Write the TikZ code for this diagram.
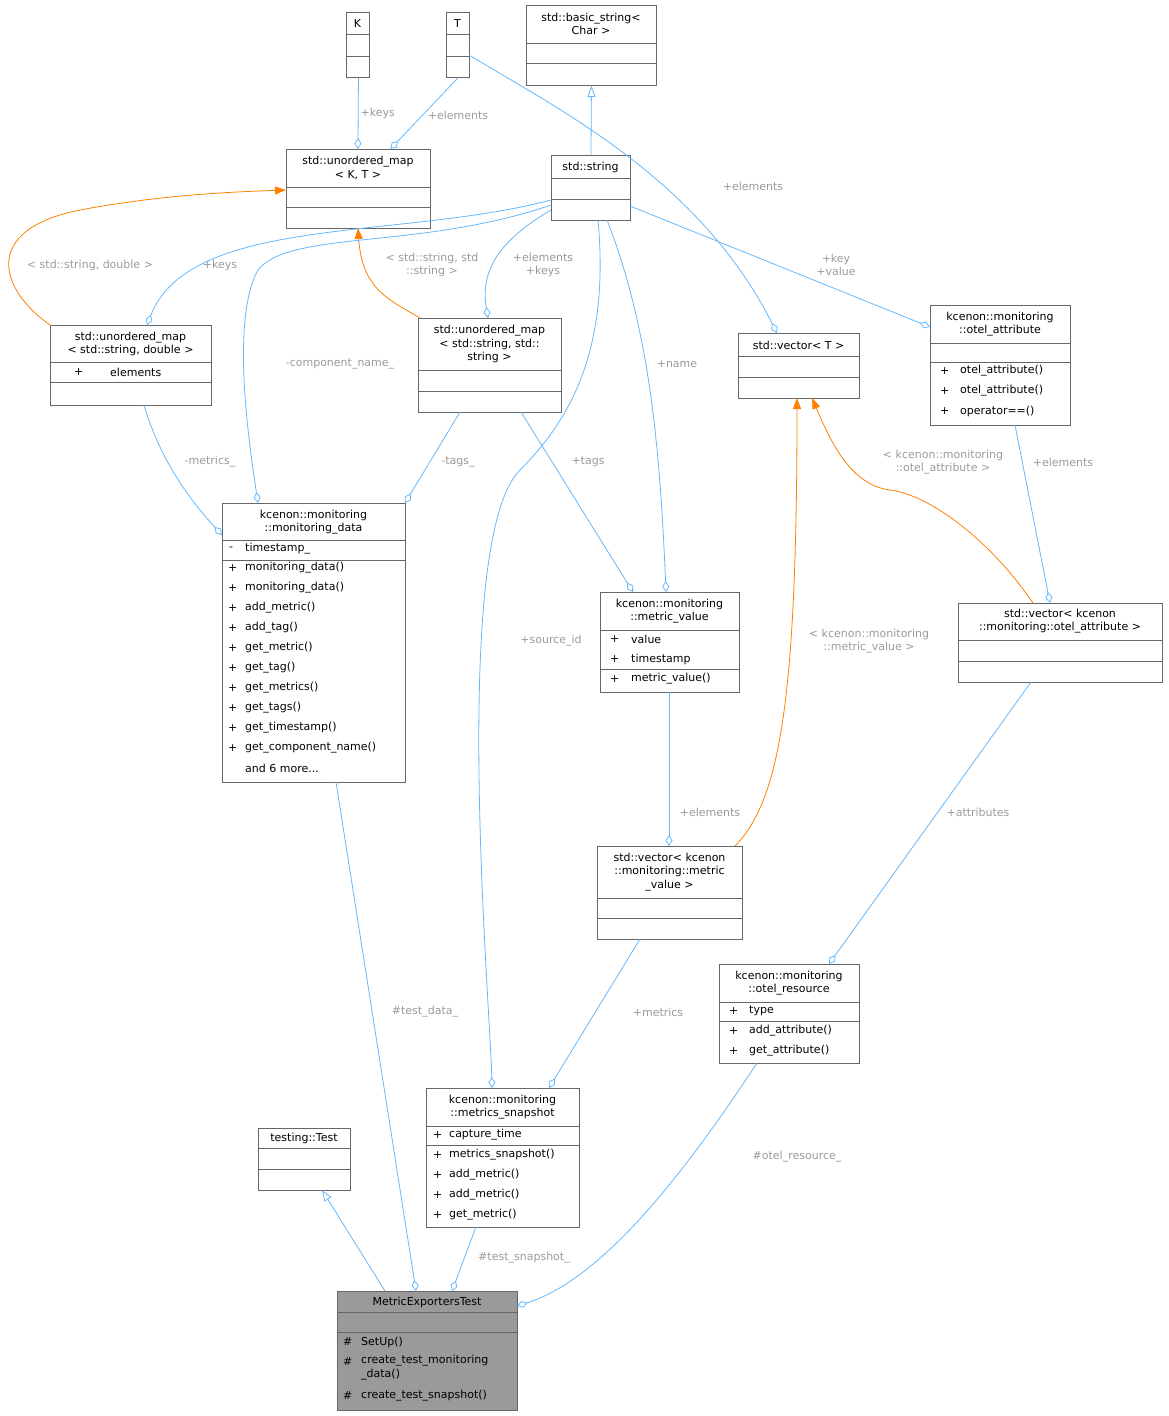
\documentclass[tikz,border=0pt]{standalone}
\usepackage{fontspec}
\setmainfont{DejaVu Sans}
\usetikzlibrary{arrows.meta}
\definecolor{eb}{HTML}{63B8FF}
\definecolor{lb}{HTML}{9A9A9A}
\definecolor{bd}{HTML}{666666}
\tikzset{
  fnt/.style={font=\fontsize{11}{13.5}\selectfont},
  box/.style={draw=bd,fill=white,inner sep=0pt,anchor=north west,line width=0.9pt},
  ttl/.style={fnt,align=center,inner sep=0pt},
  mem/.style={fnt,anchor=west,inner sep=0pt},
  lbl/.style={fnt,text=lb,align=center,inner sep=0pt},
  agg/.style={draw=eb,line width=0.8pt,-{Diamond[open,length=11pt,width=7pt,fill=white]}},
  inh/.style={draw=eb,line width=0.8pt,-{Triangle[open,length=11pt,width=8pt,fill=white]}},
  tmp/.style={draw=orange,line width=0.8pt,-{Triangle[length=11pt,width=8pt]}},
}
\newcommand{\cbox}[6][white]{% fill, name, x1,y1,x2,y2
  \node[box,fill=#1,minimum width={(#5-#3)*1pt},minimum height={(#6-#4)*1pt}] (#2) at (#3,#4) {};}
\newcommand{\hl}[3]{\draw[bd,line width=0.9pt] (#1,#3) -- (#2,#3);}
\begin{document}
\begin{tikzpicture}[x=1pt,y=-1pt]
\useasboundingbox (0,0) rectangle (1168,1416);
% K
\cbox{K}{346}{12}{369}{77}\hl{346}{369}{34}\hl{346}{369}{56}
\node[ttl] at (357.5,23) {K};
% T
\cbox{T}{446}{12}{469}{77}\hl{446}{469}{34}\hl{446}{469}{56}
\node[ttl] at (457.5,23) {T};
% basic_string
\cbox{bs}{526}{5}{656}{85}\hl{526}{656}{43}\hl{526}{656}{63}
\node[ttl] at (591,24) {std::basic\_string<\\Char >};
% umap K,T
\cbox{umkt}{286}{149}{430}{228}\hl{286}{430}{187}\hl{286}{430}{207}
\node[ttl] at (358,168) {std::unordered\_map\\< K, T >};
% std::string
\cbox{str}{551}{155}{630}{220}\hl{551}{630}{178}\hl{551}{630}{199}
\node[ttl] at (590.5,167) {std::string};
% umap string,double
\cbox{umsd}{50}{325}{211}{405}\hl{50}{211}{362}\hl{50}{211}{382}
\node[ttl] at (130.5,344) {std::unordered\_map\\< std::string, double >};
\node[mem] at (74,372) {+};\node[mem] at (110,372) {elements};
% umap string,string
\cbox{umss}{418}{318}{561}{412}\hl{418}{561}{370}\hl{418}{561}{391}
\node[ttl] at (489.5,344) {std::unordered\_map\\< std::string, std::\\string >};
% vector<T>
\cbox{vt}{738}{333}{859}{398}\hl{738}{859}{356}\hl{738}{859}{377}
\node[ttl] at (798.5,345) {std::vector< T >};
% otel_attribute
\cbox{oa}{930}{305}{1070}{425}\hl{930}{1070}{343}\hl{930}{1070}{362}
\node[ttl] at (1000,324) {kcenon::monitoring\\::otel\_attribute};
\node[mem] at (940,371) {+};\node[mem] at (960,371) {otel\_attribute()};
\node[mem] at (940,391) {+};\node[mem] at (960,391) {otel\_attribute()};
\node[mem] at (940,411) {+};\node[mem] at (960,411) {operator==()};
% monitoring_data
\cbox{md}{222}{503}{405}{782}\hl{222}{405}{540}\hl{222}{405}{560}
\node[ttl] at (313.5,522) {kcenon::monitoring\\::monitoring\_data};
\node[mem] at (229,549) {-};\node[mem] at (245,549) {timestamp\_};
\foreach \t [count=\i from 0] in {monitoring\_data(),monitoring\_data(),add\_metric(),add\_tag(),get\_metric(),get\_tag(),get\_metrics(),get\_tags(),get\_timestamp(),get\_component\_name()}{
  \node[mem] at (228,568+20*\i) {+};\node[mem] at (245,568+20*\i) {\t};}
\node[mem] at (245,768) {and 6 more...};
% metric_value
\cbox{mv}{600}{592}{739}{692}\hl{600}{739}{630}\hl{600}{739}{669}
\node[ttl] at (669.5,611) {kcenon::monitoring\\::metric\_value};
\node[mem] at (610,639) {+};\node[mem] at (631,639) {value};
\node[mem] at (610,659) {+};\node[mem] at (631,659) {timestamp};
\node[mem] at (610,679) {+};\node[mem] at (631,679) {metric\_value()};
% vector<otel_attribute>
\cbox{voa}{958}{603}{1162}{682}\hl{958}{1162}{640}\hl{958}{1162}{661}
\node[ttl] at (1060,621) {std::vector< kcenon\\::monitoring::otel\_attribute >};
% vector<metric_value>
\cbox{vmv}{597}{846}{742}{939}\hl{597}{742}{898}\hl{597}{742}{918}
\node[ttl] at (669.5,872) {std::vector< kcenon\\::monitoring::metric\\\_value >};
% otel_resource
\cbox{ores}{719}{964}{859}{1063}\hl{719}{859}{1002}\hl{719}{859}{1021}
\node[ttl] at (789,983) {kcenon::monitoring\\::otel\_resource};
\node[mem] at (729,1011) {+};\node[mem] at (749,1011) {type};
\node[mem] at (729,1031) {+};\node[mem] at (749,1031) {add\_attribute()};
\node[mem] at (729,1051) {+};\node[mem] at (749,1051) {get\_attribute()};
% metrics_snapshot
\cbox{ms}{426}{1088}{579}{1227}\hl{426}{579}{1126}\hl{426}{579}{1145}
\node[ttl] at (502.5,1107) {kcenon::monitoring\\::metrics\_snapshot};
\node[mem] at (433,1135) {+};\node[mem] at (449,1135) {capture\_time};
\foreach \t [count=\i from 0] in {metrics\_snapshot(),add\_metric(),add\_metric(),get\_metric()}{
  \node[mem] at (433,1155+20*\i) {+};\node[mem] at (449,1155+20*\i) {\t};}
% testing::Test
\cbox{tt}{258}{1128}{350}{1190}\hl{258}{350}{1148}\hl{258}{350}{1169}
\node[ttl] at (304,1138) {testing::Test};
% MetricExportersTest
\cbox[lb]{met}{337}{1291}{517}{1410}\hl{337}{517}{1312}\hl{337}{517}{1332}
\node[ttl] at (427,1302) {MetricExportersTest};
\node[mem] at (343,1342) {\#};\node[mem] at (361,1342) {SetUp()};
\node[mem] at (343,1362) {\#};\node[mem,align=left,anchor=north west] at (361,1355) {create\_test\_monitoring\\\_data()};
\node[mem] at (343,1396) {\#};\node[mem] at (361,1396) {create\_test\_snapshot()};
% ---- edges
\draw[agg] ([xshift=0.5pt]K.south) -- ([xshift=-0.5pt]umkt.north) node[lbl,pos=0.5,right=2pt] {+keys};
\draw[agg] ([xshift=0pt]T.south) -- ([xshift=32pt]umkt.north);
\node[lbl] at (458,115) {+elements};
\draw[inh] ([xshift=0pt]str.north) -- ([xshift=0pt]bs.south);
\draw[agg] (469,55) .. controls (560,110) and (700,180) .. ([xshift=-22pt]vt.north);
\node[lbl] at (753,186) {+elements};
\draw[tmp] (50,325) .. controls (0,290) and (-20,230) .. (80,210) .. controls (160,195) and (230,192) .. (286,190);
\node[lbl] at (90,265) {< std::string, double >};
\draw[tmp] (420,318) .. controls (390,300) and (362,290) .. (358,228);
\node[lbl] at (432,265) {< std::string, std\\::string >};
\draw[agg] (551,200) .. controls (400,240) and (190,215) .. (147,325);
\node[lbl] at (220,265) {+keys};
\draw[agg] (551,205) .. controls (420,250) and (290,230) .. (258,270) .. controls (230,320) and (250,450) .. (258,503);
\node[lbl] at (340,364) {-component\_name\_};
\draw[agg] (551,210) .. controls (500,240) and (480,270) .. (488,318);
\node[lbl] at (543,265) {+elements\\+keys};
\draw[agg] (598,220) .. controls (610,350) and (570,420) .. (520,470) .. controls (450,540) and (490,1000) .. (492,1088);
\node[lbl] at (551,641) {+source\_id};
\draw[agg] (607,220) .. controls (650,330) and (660,450) .. (666,592);
\node[lbl] at (677,364) {+name};
\draw[agg] (630,206) -- (930,327);
\node[lbl] at (836,265) {+key\\+value};
\draw[agg] (144,405) .. controls (160,460) and (190,500) .. (222,535);
\node[lbl] at (210,462) {-metrics\_};
\draw[agg] (460,412) -- (405,503);
\node[lbl] at (458,462) {-tags\_};
\draw[agg] (521,412) -- (633,592);
\node[lbl] at (588,462) {+tags};
\draw[tmp] (735,846) .. controls (780,800) and (797,700) .. (797,398);
\node[lbl] at (869,641) {< kcenon::monitoring\\::metric\_value >};
\draw[tmp] (1033,603) .. controls (990,540) and (930,495) .. (890,490) .. controls (850,485) and (830,440) .. (812,398);
\node[lbl] at (943,462) {< kcenon::monitoring\\::otel\_attribute >};
\draw[agg] (1015,425) -- (1050,603);
\node[lbl] at (1063,462) {+elements};
\draw[agg] (669,692) -- (669,846);
\node[lbl] at (710,812) {+elements};
\draw[agg] (1031,682) -- (829,964);
\node[lbl] at (978,812) {+attributes};
\draw[agg] (640,939) -- (549,1088);
\node[lbl] at (658,1012) {+metrics};
\draw[agg] (336,782) -- (416,1291);
\node[lbl] at (425,1012) {\#test\_data\_};
\draw[agg] (476,1227) -- (452,1291);
\node[lbl] at (524,1258) {\#test\_snapshot\_};
\draw[agg] (757,1063) .. controls (680,1180) and (600,1280) .. (517,1306);
\node[lbl] at (797,1157) {\#otel\_resource\_};
\draw[inh] (385,1291) -- (322,1190);
\end{tikzpicture}
\end{document}
